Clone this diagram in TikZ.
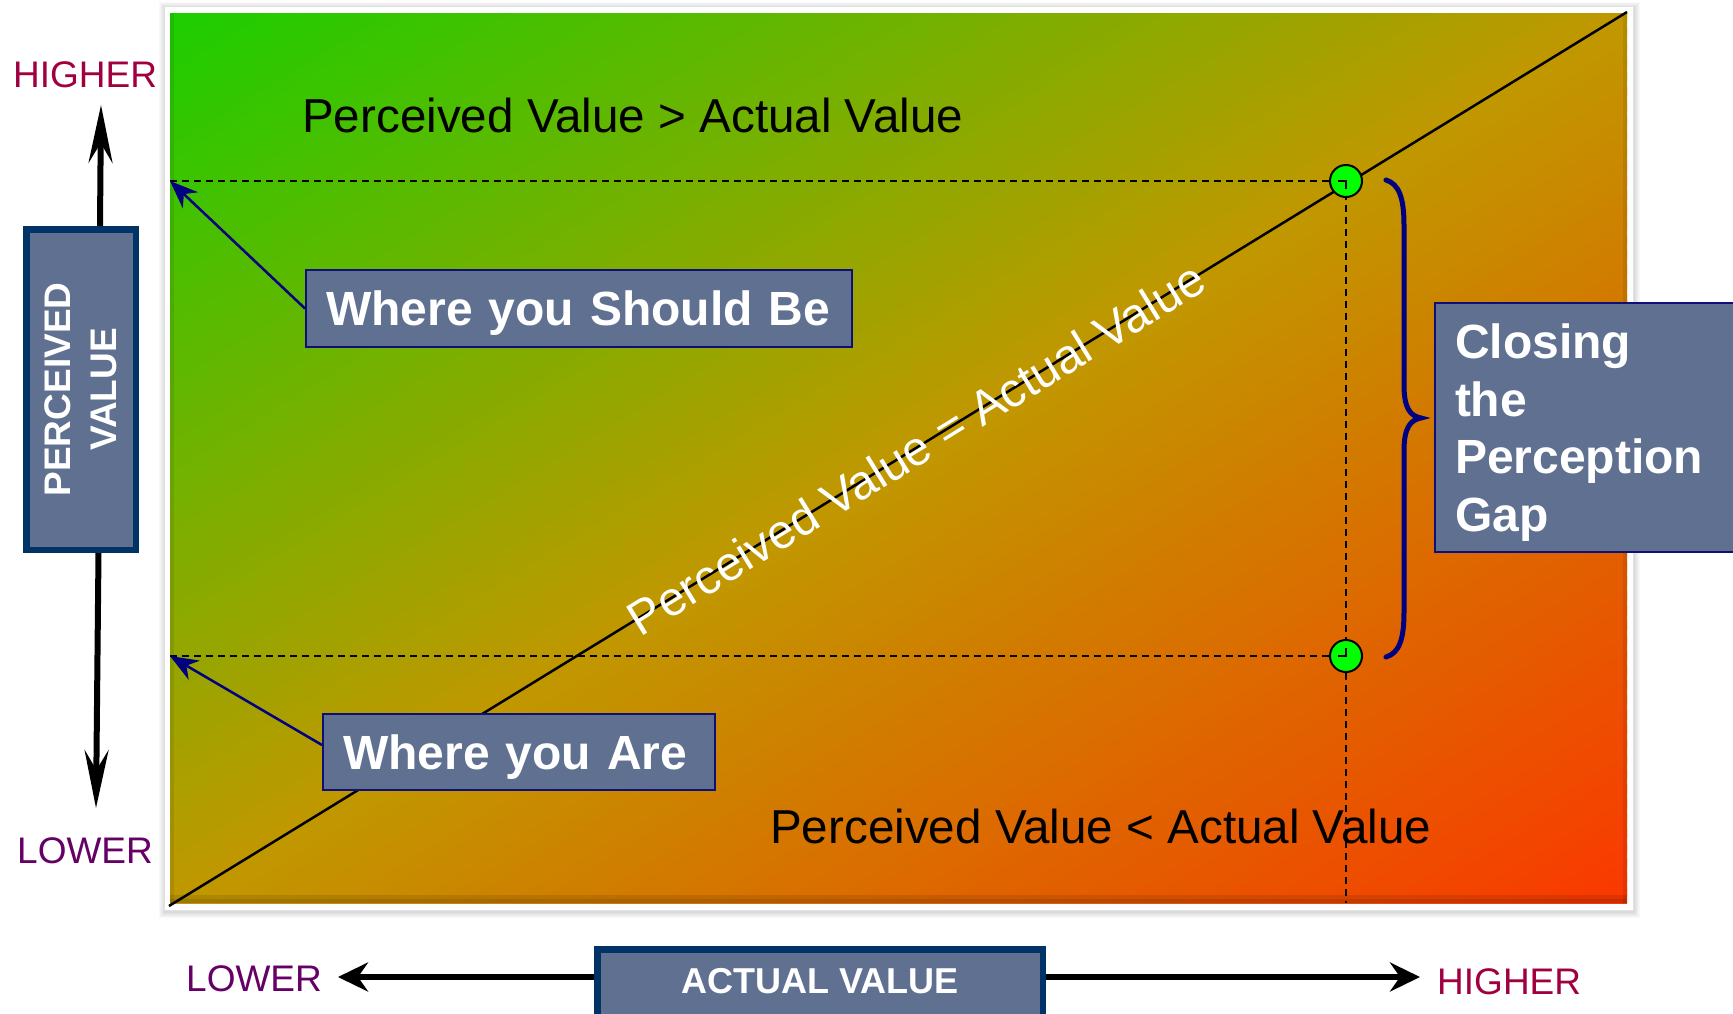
\documentclass[tikz,border=0pt]{standalone}
\usepackage{fontspec}
\setmainfont{Liberation Sans}
\usetikzlibrary{arrows.meta}
\definecolor{gGreen}{RGB}{28,206,0}
\definecolor{gOchre}{RGB}{192,152,0}
\definecolor{gRed}{RGB}{250,56,0}
\definecolor{slate}{RGB}{95,112,145}
\definecolor{axisborder}{RGB}{0,51,102}
\definecolor{navyline}{RGB}{0,0,128}
\definecolor{boxborder}{RGB}{15,15,120}
\definecolor{hiColor}{RGB}{160,0,64}
\definecolor{loColor}{RGB}{102,0,102}
\definecolor{dotgreen}{RGB}{0,255,0}
\newcommand{\fsz}[2]{\fontsize{#1}{#2}\selectfont}
\tikzset{
  slatebox/.style={draw=boxborder, fill=slate, line width=2pt, text=white,
    font=\bfseries\fsz{48}{57.5}, inner sep=0pt},
  axisbox/.style={draw=axisborder, fill=slate, line width=6.5pt, text=white,
    font=\bfseries\fsz{37}{46}, inner sep=0pt},
  freetext/.style={inner sep=0pt, anchor=base west},
  vbigarrow/.style={line width=6pt, -{Stealth[length=58pt,width=24pt,inset=20pt]}},
  hbigarrow/.style={line width=6pt, -{Stealth[length=30pt,width=29pt,inset=10pt]}},
  bluearrow/.style={draw=navyline, line width=2.5pt, -{Stealth[length=28pt,width=22pt,inset=9pt]}},
  dashline/.style={line width=2pt, dash pattern=on 7pt off 5pt},
  dotnode/.style={circle, draw=black, line width=2pt, fill=dotgreen, minimum size=32pt, inner sep=0pt},
}
\begin{document}
\begin{tikzpicture}[x=1pt,y=-1pt]
\useasboundingbox (0,0) rectangle (1733,1013);
\clip (0,0) rectangle (1733,1013);
\fill[white] (0,0) rectangle (1733,1013);

% frame with soft shadow
\foreach \k in {1,...,6}
  \fill[black,opacity=0.025] (165-\k,8-\k) rectangle (1634+\k,912+\k);
\fill[white] (164,6) rectangle (1633,910);
\draw[black!12, line width=0.8pt] (164,6) rectangle (1633,910);

% gradient field
\begin{scope}
\clip (170,13) rectangle (1627,903);
\begin{scope}[shift={(170,13)},x={(1457pt,0pt)},y={(0pt,-890pt)}]
\foreach \i in {0,...,119}{
  \pgfmathsetmacro\ca{\i/60}
  \pgfmathsetmacro\cb{(\i+1.6)/60}
  \ifnum\i<60
    \pgfmathsetmacro\pp{(\i+0.5)*100/60}
    \colorlet{bandc}{gOchre!\pp!gGreen}
  \else
    \pgfmathsetmacro\pp{(\i-59.5)*100/60}
    \colorlet{bandc}{gRed!\pp!gOchre}
  \fi
  \fill[bandc] (\ca+1,-1) -- (-1,\ca+1) -- (-1,\cb+1) -- (\cb+1,-1) -- cycle;
}
\end{scope}
\fill[black,opacity=0.10] (170,899) rectangle (1627,903);
\fill[black,opacity=0.10] (170,895) rectangle (1627,903);
\fill[black,opacity=0.08] (170,13) rectangle (174,903);
\fill[black,opacity=0.08] (1623,13) rectangle (1627,903);
\end{scope}

% coordinates
\coordinate (bl) at (169,906);
\coordinate (tr) at (1627,12);
\coordinate (hiL) at (170,181);
\coordinate (loL) at (170,656);
\coordinate (hiP) at (1346,181);
\coordinate (loP) at (1346,656);
\coordinate (vBot) at (1346,903);
\coordinate (upTip) at (101,105);
\coordinate (downTip) at (96,808);
\coordinate (leftTip) at (338,977);
\coordinate (rightTip) at (1420,977);

% dashed guide lines
\draw[dashline] (hiL) -- (hiP);
\draw[dashline] (loL) -- (loP);
\draw[dashline] (hiP) -- (vBot);

% diagonal
\draw[line width=2.5pt] (bl) -- (tr);
\node[inner sep=0pt, text=white, font=\fsz{48}{56}, rotate=31.55] (eqTxt) at (916,448.4) {Perceived Value = Actual Value};

% points
\node[dotnode] (hiC) at (hiP) {};
\node[dotnode] (loC) at (loP) {};
\draw[line width=2pt] ([xshift=-8pt]hiC.center) -- (hiC.center) -- ([yshift=-8pt]hiC.center);
\draw[line width=2pt] ([xshift=-8pt]loC.center) -- (loC.center) -- ([yshift=8pt]loC.center);

% brace
\draw[navyline, line width=5pt, line cap=round]
  (1386,180) .. controls (1399,184) and (1404,198) .. (1404,225)
  -- (1404,385) .. controls (1404,408) and (1410,416) .. (1421,418)
  .. controls (1410,420) and (1404,428) .. (1404,451)
  -- (1404,612) .. controls (1404,640) and (1399,653) .. (1386,657);

% region texts
\node[freetext, font=\fsz{47.6}{56}] (gtTxt) at (302,132) {Perceived Value > Actual Value};
\node[freetext, font=\fsz{47.6}{56}] (ltTxt) at (770,843) {Perceived Value < Actual Value};

% label boxes
\node[slatebox, minimum width=546pt, minimum height=77pt, text width=506pt, align=left,
  inner xsep=20pt, text height=34pt, text depth=0pt] (should) at (579,308.5) {Where you Should Be};
\node[slatebox, minimum width=392pt, minimum height=76pt, text width=352pt, align=left,
  inner xsep=20pt, text height=34pt, text depth=0pt] (are) at (519,752) {Where you Are};
\node[slatebox, minimum width=310pt, minimum height=249pt, text width=270pt, align=left,
  inner xsep=20pt, inner ysep=0pt, text height=35pt, text depth=172.5pt] (gap) at (1590,427.5) {Closing\\the\\Perception\\Gap};

\draw[bluearrow] (should.west) -- (hiL);
\draw[bluearrow] ([yshift=7pt]are.west) -- (loL);

% axes
\node[axisbox, rotate=90, minimum width=320.5pt, minimum height=109.5pt, align=center] (pv) at (81,389.5) {PERCEIVED\\VALUE};
\node[axisbox, font=\bfseries\fsz{36}{42}, minimum width=445.5pt, minimum height=81.5pt,
  text height=6pt, text depth=0pt] (av) at (820,990) {ACTUAL VALUE};

\draw[vbigarrow] ([xshift=19pt]pv.east) -- (upTip);
\draw[vbigarrow] ([xshift=17.5pt]pv.west) -- (downTip);
\draw[hbigarrow] (av.west |- leftTip) -- (leftTip);
\draw[hbigarrow] (av.east |- rightTip) -- (rightTip);

\node[freetext, text=hiColor, font=\fsz{37}{44}] (hiV) at (13,87) {HIGHER};
\node[freetext, text=loColor, font=\fsz{37}{44}] (loV) at (17,863) {LOWER};
\node[freetext, text=loColor, font=\fsz{37}{44}] (loA) at (186,991) {LOWER};
\node[freetext, text=hiColor, font=\fsz{37}{44}] (hiA) at (1437,994) {HIGHER};
\end{tikzpicture}
\end{document}
